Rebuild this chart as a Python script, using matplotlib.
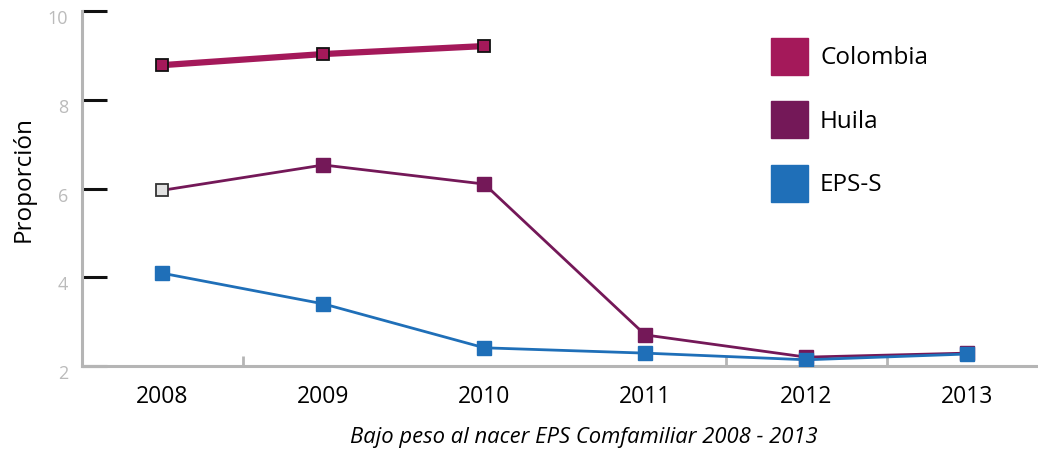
import matplotlib
matplotlib.use("Agg")
import matplotlib.pyplot as plt
from matplotlib.patches import Patch
from matplotlib.transforms import ScaledTranslation

plt.rcParams['font.family'] = ['Open Sans', 'DejaVu Sans']

years = ['2008', '2009', '2010', '2011', '2012', '2013']
colombia = [8.78, 9.03, 9.21]
huila = [5.96, 6.53, 6.10, 2.70, 2.20, 2.29]
eps_s = [4.09, 3.40, 2.41, 2.29, 2.14, 2.27]

c_col = '#A4195A'
c_hui = '#741858'
c_eps = '#1F6FB8'

fig = plt.figure(figsize=(10.38, 4.5), dpi=100)
ax = fig.add_axes([82 / 1038, 1 - 366 / 450, 1 - 82 / 1038, 355 / 450])

x = list(range(len(years)))

# EPS-S
ax.plot(x, eps_s, color=c_eps, lw=2, marker='s', ms=10, mec=c_eps, zorder=3)
# Huila (first point shown with a grey marker)
ax.plot(x, huila, color=c_hui, lw=2, zorder=2)
ax.plot(x[1:], huila[1:], ls='none', marker='s', ms=10, color=c_hui, zorder=2)
ax.plot(x[:1], huila[:1], ls='none', marker='s', ms=9, mfc='#E2E2E2', mec='#333333',
        mew=1.3, zorder=2)
# Colombia
ax.plot(x[:len(colombia)], colombia, color=c_col, lw=4.5, marker='s', ms=9,
        mfc=c_col, mec='#111111', mew=1.3, zorder=4)

ax.set_xlim(-0.5, 5.44)
ax.set_ylim(2, 10)
ax.set_xticks(x)
ax.set_xticklabels(years, fontsize=16.5)
ax.set_xticks([0.5, 3.5, 4.5], minor=True)
ax.set_yticks([2, 4, 6, 8, 10])
ax.set_yticklabels(['2', '4', '6', '8', '10'], fontsize=13, color='#BBBBBB')

ax.tick_params(axis='x', which='major', length=0, pad=14)
ax.tick_params(axis='x', which='minor', direction='in', length=7, width=2, color='#B5B5B5')
ax.tick_params(axis='y', direction='in', length=18, width=2.2, color='#111111', pad=10)

# y labels sit a little below their ticks in the original
shift = ScaledTranslation(0, -6 / 100, fig.dpi_scale_trans)
for lab in ax.get_yticklabels():
    lab.set_transform(lab.get_transform() + shift)

for s in ['top', 'right']:
    ax.spines[s].set_visible(False)
for s in ['left', 'bottom']:
    ax.spines[s].set_color('#B5B5B5')
    ax.spines[s].set_linewidth(2.2)

ax.set_ylabel('Proporción', fontsize=17.5)
ax.yaxis.set_label_coords(-0.049, 0.527)

handles = [Patch(color=c_col), Patch(color=c_hui), Patch(color=c_eps)]
fig.legend(handles, ['Colombia', 'Huila', 'EPS-S'], loc='upper left',
           bbox_to_anchor=(771 / 1038, 1 - 38 / 450), frameon=False, fontsize=17.5,
           handlelength=1.52, handleheight=1.97, labelspacing=1.08, handletextpad=0.5,
           borderpad=0, borderaxespad=0)

fig.text(584 / 1038, 1 - 437 / 450, 'Bajo peso al nacer EPS Comfamiliar 2008 - 2013',
         ha='center', va='center', fontsize=15.8, style='italic')

fig.savefig('out.png', dpi=100)
